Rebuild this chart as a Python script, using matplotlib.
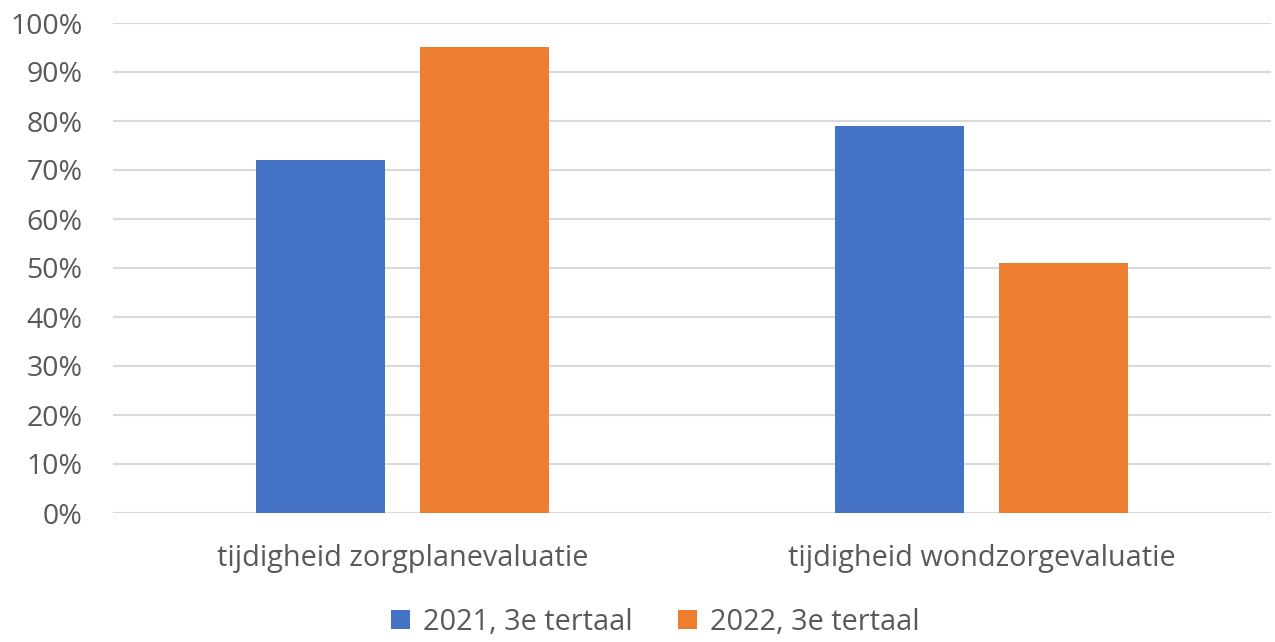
import matplotlib.pyplot as plt
import numpy as np
from matplotlib.ticker import PercentFormatter

plt.rcParams['font.family'] = ['Open Sans', 'DejaVu Sans']

# Data
categories = ['tijdigheid zorgplanevaluatie', 'tijdigheid wondzorgevaluatie']
series_names = ['2021, 3e tertaal', '2022, 3e tertaal']
values_2021 = [72, 79]
values_2022 = [95, 51]
colors = ['#4472C4', '#ED7D31']
text_col = '#595959'

fig = plt.figure(figsize=(12.75, 6.42), dpi=100)
ax = fig.add_axes([113/1275, 129/642, 1158/1275, 490/642])

x = np.arange(len(categories))
w = 0.2228
off = 0.1416
ax.bar(x - off, values_2021, w, color=colors[0], label=series_names[0], zorder=3)
ax.bar(x + off, values_2022, w, color=colors[1], label=series_names[1], zorder=3)

ax.set_xlim(-0.5, 1.5)
ax.set_ylim(0, 100)
ax.set_yticks(np.arange(0, 101, 10))
ax.yaxis.set_major_formatter(PercentFormatter(decimals=0))
ax.grid(axis='y', color='#D9D9D9', linewidth=1.5, zorder=0)
ax.set_xticks(x)
ax.set_xticklabels(categories)
ax.tick_params(axis='both', length=0, labelcolor=text_col)
ax.tick_params(axis='x', pad=22, labelsize=20.8)
ax.tick_params(axis='y', pad=22, labelsize=20.5)
for s in ax.spines.values():
    s.set_visible(False)
ax.axhline(0, color='#D9D9D9', linewidth=1.5, zorder=2)

leg = fig.legend(loc='lower center', bbox_to_anchor=(0.514, -0.032), ncol=2, frameon=False,
                 fontsize=20.8, handlelength=0.65, handleheight=0.65, handletextpad=0.45,
                 columnspacing=1.6)
for t in leg.get_texts():
    t.set_color(text_col)

fig.savefig('out.png', dpi=100)
